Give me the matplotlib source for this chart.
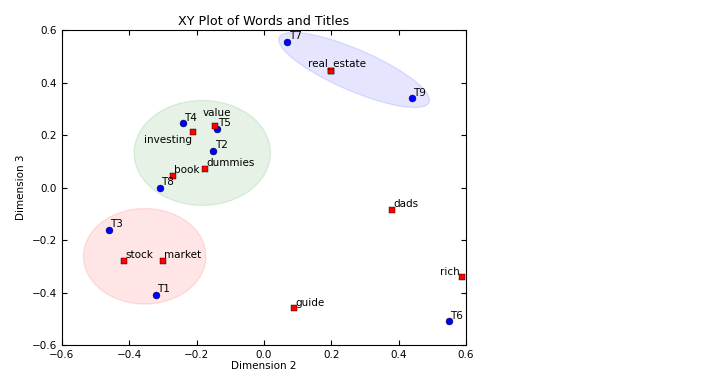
#XY plot of words and titles (LSA dimensions 2 and 3)

#imports
import numpy as np
import matplotlib
matplotlib.use('Agg')
import matplotlib.pyplot as plt
from matplotlib.patches import Ellipse

#titles (blue dots)
titles   = ['T1', 'T2', 'T3', 'T4', 'T5', 'T6', 'T7', 'T8', 'T9']
title_x  = [-0.32, -0.15, -0.46, -0.24, -0.14, 0.55, 0.07, -0.31, 0.44]
title_y  = [-0.41, 0.14, -0.16, 0.245, 0.225, -0.51, 0.555, 0.00, 0.34]

#words (red squares)
words    = ['book', 'dads', 'dummies', 'estate', 'guide', 'investing', 'market', 'real', 'rich', 'stock', 'value']
word_x   = [-0.27, 0.38, -0.175, 0.20, 0.09, -0.21, -0.30, 0.20, 0.59, -0.415, -0.145]
word_y   = [0.045, -0.085, 0.07, 0.445, -0.46, 0.21, -0.28, 0.445, -0.34, -0.28, 0.235]

#labels that sit somewhere other than up-right of the point
special  = {'investing': (-1, -2, 'right', 'top'),
            'rich':      (-2, 0, 'right', 'bottom'),
            'value':     (1, 6, 'center', 'bottom')}

plt.rcParams['font.size'] = 7.5
plt.rcParams['xtick.direction'] = 'in'
plt.rcParams['ytick.direction'] = 'in'
plt.rcParams['xtick.top'] = True
plt.rcParams['ytick.right'] = True

fig = plt.figure(figsize=(7.2, 3.81), dpi=100)
fig.patch.set_facecolor('white')
ax = fig.add_axes([0.086, 0.0945, 0.561, 0.8265])

#cluster ellipses
ax.add_patch(Ellipse((-0.183, 0.132), 0.405, 0.40, color='g', alpha=0.1))
ax.add_patch(Ellipse((-0.354, -0.262), 0.364, 0.364, color='r', alpha=0.1))
ax.add_patch(Ellipse((0.268, 0.448), 0.51, 0.15, angle=-30, color='b', alpha=0.1))

#points
ax.plot(title_x, title_y, 'o', color='b', ms=5, mec='k', mew=0.3)
ax.plot(word_x, word_y, 's', color='r', ms=4.6, mec='k', mew=0.3)

#labels
for i in range(len(titles)):
    ax.annotate(titles[i], (title_x[i], title_y[i]), xytext=(1, 0.5),
                textcoords='offset points', ha='left', va='bottom')

for i in range(len(words)):
    w = words[i]
    if w == 'estate':
        continue
    if w == 'real':
        ax.annotate('real_estate', (word_x[i], word_y[i]), xytext=(4, 1),
                    textcoords='offset points', ha='center', va='bottom')
        continue
    if w in special:
        dx, dy, ha, va = special[w]
    else:
        dx, dy, ha, va = 1, 0.5, 'left', 'bottom'
    ax.annotate(w, (word_x[i], word_y[i]), xytext=(dx, dy),
                textcoords='offset points', ha=ha, va=va)

ax.set_xlim(-0.6, 0.6)
ax.set_ylim(-0.6, 0.6)
ax.set_xticks(np.arange(-0.6, 0.61, 0.2))
ax.set_yticks(np.arange(-0.6, 0.61, 0.2))
ax.set_xlabel('Dimension 2', labelpad=1)
ax.set_ylabel('Dimension 3')
ax.set_title('XY Plot of Words and Titles', fontsize=9.2, pad=4)

fig.savefig('out.png', dpi=100, facecolor='white')
